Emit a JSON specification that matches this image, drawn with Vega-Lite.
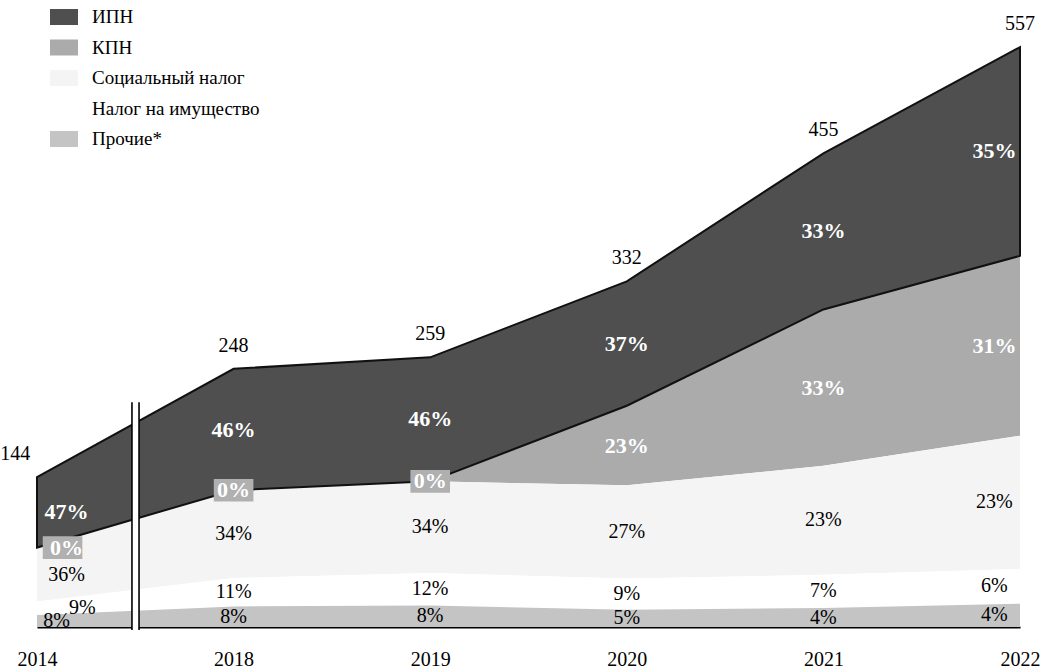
{
  "$schema": "https://vega.github.io/schema/vega-lite/v6.json",
  "width": 983,
  "height": 583,
  "autosize": {"type": "none"},
  "padding": {"left": 37, "top": 44, "right": 24, "bottom": 44},
  "background": "white",
  "config": {
    "view": {"stroke": null},
    "font": "Liberation Serif",
    "legend": {"labelFont": "Liberation Serif", "labelFontSize": 19, "labelColor": "black", "labelLimit": 400},
    "text": {"font": "Liberation Serif"}
  },
  "datasets": {
    "taxes": [
      {"year": "2014", "tax": "ИПН", "value": 67.7, "pct": "47%"},
      {"year": "2014", "tax": "КПН", "value": 0, "pct": "0%"},
      {"year": "2014", "tax": "Социальный налог", "value": 51.8, "pct": "36%"},
      {"year": "2014", "tax": "Налог на имущество", "value": 13.0, "pct": "9%"},
      {"year": "2014", "tax": "Прочие*", "value": 11.5, "pct": "8%"},
      {"year": "2018", "tax": "ИПН", "value": 116.6, "pct": "46%"},
      {"year": "2018", "tax": "КПН", "value": 0, "pct": "0%"},
      {"year": "2018", "tax": "Социальный налог", "value": 84.3, "pct": "34%"},
      {"year": "2018", "tax": "Налог на имущество", "value": 27.3, "pct": "11%"},
      {"year": "2018", "tax": "Прочие*", "value": 19.8, "pct": "8%"},
      {"year": "2019", "tax": "ИПН", "value": 119.1, "pct": "46%"},
      {"year": "2019", "tax": "КПН", "value": 0, "pct": "0%"},
      {"year": "2019", "tax": "Социальный налог", "value": 88.1, "pct": "34%"},
      {"year": "2019", "tax": "Налог на имущество", "value": 31.1, "pct": "12%"},
      {"year": "2019", "tax": "Прочие*", "value": 20.7, "pct": "8%"},
      {"year": "2020", "tax": "ИПН", "value": 119.5, "pct": "37%"},
      {"year": "2020", "tax": "КПН", "value": 76.4, "pct": "23%"},
      {"year": "2020", "tax": "Социальный налог", "value": 89.6, "pct": "27%"},
      {"year": "2020", "tax": "Налог на имущество", "value": 29.9, "pct": "9%"},
      {"year": "2020", "tax": "Прочие*", "value": 16.6, "pct": "5%"},
      {"year": "2021", "tax": "ИПН", "value": 150.0, "pct": "33%"},
      {"year": "2021", "tax": "КПН", "value": 150.2, "pct": "33%"},
      {"year": "2021", "tax": "Социальный налог", "value": 104.7, "pct": "23%"},
      {"year": "2021", "tax": "Налог на имущество", "value": 31.9, "pct": "7%"},
      {"year": "2021", "tax": "Прочие*", "value": 18.2, "pct": "4%"},
      {"year": "2022", "tax": "ИПН", "value": 200.5, "pct": "35%"},
      {"year": "2022", "tax": "КПН", "value": 172.7, "pct": "31%"},
      {"year": "2022", "tax": "Социальный налог", "value": 128.1, "pct": "23%"},
      {"year": "2022", "tax": "Налог на имущество", "value": 33.4, "pct": "6%"},
      {"year": "2022", "tax": "Прочие*", "value": 22.3, "pct": "4%"}
    ],
    "totals": [
      {"year": "2014", "total": 144},
      {"year": "2018", "total": 248},
      {"year": "2019", "total": 259},
      {"year": "2020", "total": 332},
      {"year": "2021", "total": 455},
      {"year": "2022", "total": 557}
    ]
  },
  "layer": [
    {
      "data": {"name": "taxes"},
      "transform": [
        {"calculate": "indexof(['2014','2018','2019','2020','2021','2022'], datum.year)", "as": "slot"},
        {"calculate": "indexof(['Прочие*','Налог на имущество','Социальный налог','КПН','ИПН'], datum.tax)", "as": "k"},
        {"stack": "value", "groupby": ["slot"], "sort": [{"field": "k", "order": "ascending"}], "as": ["y0", "y1"]}
      ],
      "mark": {"type": "area", "interpolate": "linear"},
      "encoding": {
        "x": {
          "field": "slot", "type": "quantitative",
          "scale": {"domain": [0, 5], "nice": false, "zero": false},
          "axis": {
            "values": [0, 1, 2, 3, 4, 5],
            "labelExpr": "['2014','2018','2019','2020','2021','2022'][datum.value]",
            "title": null, "grid": false, "ticks": false,
            "domain": true, "domainColor": "black", "domainWidth": 2,
            "labelFont": "Liberation Serif", "labelFontSize": 20, "labelColor": "black",
            "labelPadding": 22, "labelFlush": false, "labelOverlap": false
          }
        },
        "y": {"field": "y1", "type": "quantitative", "scale": {"domain": [0, 560], "nice": false}, "axis": null},
        "y2": {"field": "y0"},
        "color": {
          "field": "tax", "type": "nominal",
          "scale": {
            "domain": ["ИПН", "КПН", "Социальный налог", "Налог на имущество", "Прочие*"],
            "range": ["#4f4f4f", "#ababab", "#f4f4f4", "#ffffff", "#c4c4c4"]
          },
          "legend": {
            "orient": "none", "legendX": 17, "legendY": -37, "title": null,
            "symbolType": "M-1.4,-0.8H1.4V0.8H-1.4Z", "symbolSize": 400,
            "symbolStrokeWidth": 0, "symbolOpacity": 1,
            "labelFont": "Liberation Serif", "labelFontSize": 19, "labelColor": "black",
            "labelLimit": 400,
            "rowPadding": 10.5, "labelOffset": 18, "padding": 0
          }
        }
      }
    },
    {
      "data": {"name": "taxes"},
      "transform": [
        {"calculate": "indexof(['2014','2018','2019','2020','2021','2022'], datum.year)", "as": "slot"},
        {"calculate": "indexof(['Прочие*','Налог на имущество','Социальный налог','КПН','ИПН'], datum.tax)", "as": "k"},
        {"stack": "value", "groupby": ["slot"], "sort": [{"field": "k", "order": "ascending"}], "as": ["y0", "y1"]},
        {"filter": "datum.tax == 'ИПН'"}
      ],
      "mark": {"type": "area", "interpolate": "linear", "fill": "#4f4f4f", "stroke": "#111111", "strokeWidth": 2},
      "encoding": {
        "x": {"field": "slot", "type": "quantitative"},
        "y": {"field": "y1", "type": "quantitative"},
        "y2": {"field": "y0"}
      }
    },
    {
      "data": {"values": [{}]},
      "mark": {"type": "rect", "fill": "white", "clip": false},
      "encoding": {
        "x": {"datum": 0.483, "type": "quantitative"},
        "x2": {"datum": 0.519},
        "y": {"datum": 216, "type": "quantitative"},
        "y2": {"datum": -4}
      }
    },
    {
      "data": {"values": [{}]},
      "mark": {"type": "rule", "color": "black", "strokeWidth": 1.6},
      "encoding": {
        "x": {"datum": 0.483, "type": "quantitative"},
        "y": {"datum": 216, "type": "quantitative"},
        "y2": {"datum": -3}
      }
    },
    {
      "data": {"values": [{}]},
      "mark": {"type": "rule", "color": "black", "strokeWidth": 1.6},
      "encoding": {
        "x": {"datum": 0.519, "type": "quantitative"},
        "y": {"datum": 216, "type": "quantitative"},
        "y2": {"datum": -3}
      }
    },
    {
      "data": {"name": "taxes"},
      "transform": [
        {"calculate": "indexof(['2014','2018','2019','2020','2021','2022'], datum.year)", "as": "slot"},
        {"calculate": "indexof(['Прочие*','Налог на имущество','Социальный налог','КПН','ИПН'], datum.tax)", "as": "k"},
        {"stack": "value", "groupby": ["slot"], "sort": [{"field": "k", "order": "ascending"}], "as": ["y0", "y1"]},
        {"calculate": "(datum.y0 + datum.y1) / 2", "as": "mid"},
        {"calculate": "datum.slot == 0 ? 0.13 : (datum.slot == 5 ? 4.87 : datum.slot)", "as": "lx"},
        {"filter": "datum.tax == 'КПН' && datum.value == 0"}
      ],
      "mark": {"type": "point", "shape": "M-1.4,-0.8H1.4V0.8H-1.4Z", "size": 800, "filled": true, "fill": "#b0b0b0", "opacity": 1, "strokeWidth": 0},
      "encoding": {
        "x": {"field": "lx", "type": "quantitative"},
        "y": {"field": "mid", "type": "quantitative"}
      }
    },
    {
      "data": {"name": "taxes"},
      "transform": [
        {"calculate": "indexof(['2014','2018','2019','2020','2021','2022'], datum.year)", "as": "slot"},
        {"calculate": "indexof(['Прочие*','Налог на имущество','Социальный налог','КПН','ИПН'], datum.tax)", "as": "k"},
        {"stack": "value", "groupby": ["slot"], "sort": [{"field": "k", "order": "ascending"}], "as": ["y0", "y1"]},
        {"calculate": "(datum.y0 + datum.y1) / 2", "as": "mid"},
        {"calculate": "datum.slot == 0 ? 0.15 : (datum.slot == 5 ? 4.87 : datum.slot)", "as": "lx"},
        {"filter": "datum.k >= 3"}
      ],
      "mark": {"type": "text", "font": "Liberation Serif", "fontWeight": "bold", "fontSize": 22, "fill": "white", "baseline": "middle"},
      "encoding": {
        "x": {"field": "lx", "type": "quantitative"},
        "y": {"field": "mid", "type": "quantitative"},
        "text": {"field": "pct"}
      }
    },
    {
      "data": {"name": "taxes"},
      "transform": [
        {"calculate": "indexof(['2014','2018','2019','2020','2021','2022'], datum.year)", "as": "slot"},
        {"calculate": "indexof(['Прочие*','Налог на имущество','Социальный налог','КПН','ИПН'], datum.tax)", "as": "k"},
        {"stack": "value", "groupby": ["slot"], "sort": [{"field": "k", "order": "ascending"}], "as": ["y0", "y1"]},
        {"calculate": "(datum.y0 + datum.y1) / 2", "as": "mid"},
        {"calculate": "datum.slot == 0 ? (datum.k == 1 ? 0.23 : (datum.k == 0 ? 0.1 : 0.15)) : (datum.slot == 5 ? 4.87 : datum.slot)", "as": "lx"},
        {"filter": "datum.k <= 2"}
      ],
      "mark": {"type": "text", "font": "Liberation Serif", "fontSize": 20, "fill": "black", "baseline": "middle"},
      "encoding": {
        "x": {"field": "lx", "type": "quantitative"},
        "y": {"field": "mid", "type": "quantitative"},
        "text": {"field": "pct"}
      }
    },
    {
      "data": {"name": "totals"},
      "transform": [
        {"calculate": "indexof(['2014','2018','2019','2020','2021','2022'], datum.year)", "as": "slot"},
        {"calculate": "datum.slot == 0 ? -0.11 : datum.slot", "as": "lx"}
      ],
      "mark": {"type": "text", "font": "Liberation Serif", "fontSize": 20, "fill": "black", "baseline": "bottom", "dy": -13, "clip": false},
      "encoding": {
        "x": {"field": "lx", "type": "quantitative"},
        "y": {"field": "total", "type": "quantitative"},
        "text": {"field": "total"}
      }
    }
  ]
}
